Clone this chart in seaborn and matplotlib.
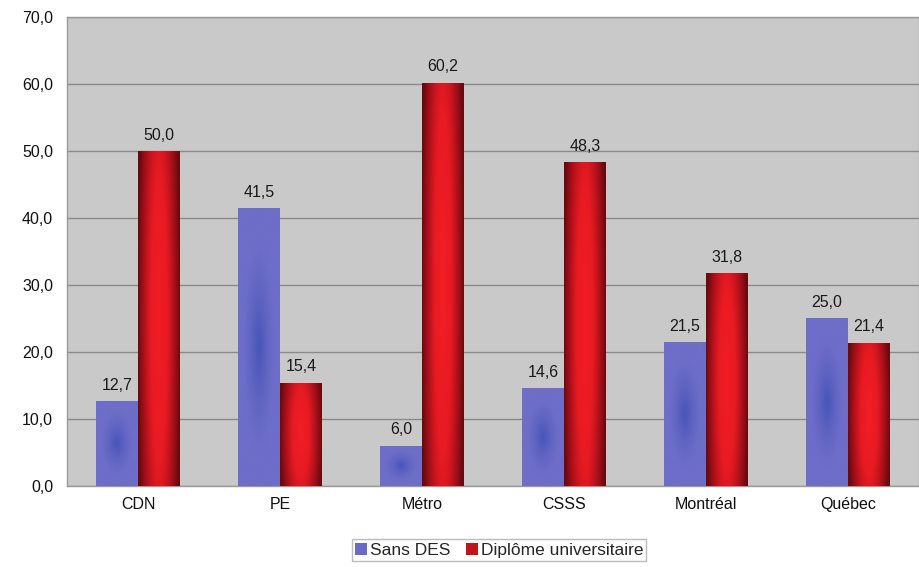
import numpy as np
import pandas as pd
import seaborn as sns
import matplotlib.pyplot as plt
from matplotlib.colors import LinearSegmentedColormap
from matplotlib.patches import Patch

# données
regions = ["CDN", "PE", "Métro", "CSSS", "Montréal", "Québec"]
sans_des = [12.7, 41.5, 6.0, 14.6, 21.5, 25.0]
diplome = [50.0, 15.4, 60.2, 48.3, 31.8, 21.4]
series = ["Sans DES", "Diplôme universitaire"]

df = pd.DataFrame({
    "Region": regions * 2,
    "Serie": [series[0]] * len(regions) + [series[1]] * len(regions),
    "Valeur": sans_des + diplome,
})

sns.set_style("white")
plt.rcParams["font.family"] = ["Liberation Sans", "DejaVu Sans"]

fig = plt.figure(figsize=(9.19, 5.67), dpi=100)
ax = fig.add_axes([0.073, 0.143, 0.927, 0.827])

couleurs = {"Sans DES": "#6a6ac4", "Diplôme universitaire": "#c0141c"}
sns.barplot(data=df, x="Region", y="Valeur", hue="Serie", palette=couleurs,
            width=0.59, gap=0, ax=ax, legend=False, zorder=3, linewidth=0)

# dégradés dans les barres (bord -> centre)
cmap_bleu = LinearSegmentedColormap.from_list("b", ["#6e6ec8", "#5f63c2", "#4656b8"])
cmap_rouge = LinearSegmentedColormap.from_list("r", ["#6a0a0e", "#a8101a", "#e81a22", "#f21e26"])
xx, yy = np.meshgrid(np.linspace(-1, 1, 80), np.linspace(-1, 1, 80))
for i, p in enumerate(ax.patches):
    x0, y0 = p.get_x(), p.get_y()
    w, h = p.get_width(), p.get_height()
    if h <= 0:
        continue
    if i < len(regions):
        img = np.clip(1 - np.sqrt((xx / 0.75) ** 2 + (yy / 0.75) ** 2), 0, 1)
        cm = cmap_bleu
    else:
        img = np.clip(1 - np.sqrt((xx / 1.0) ** 2 + (yy / 2.2) ** 2), 0, 1) ** 0.8
        cm = cmap_rouge
    im = ax.imshow(img, cmap=cm, vmin=0, vmax=1, extent=[x0, x0 + w, y0, y0 + h],
                   aspect="auto", zorder=4, interpolation="bicubic")
    im.set_clip_path(p)

ax.set_xlim(-0.5, len(regions) - 0.5)
ax.set_ylim(0, 70)
ax.set_yticks(np.arange(0, 71, 10))
ax.set_yticklabels([f"{v:.1f}".replace(".", ",") for v in np.arange(0, 71, 10)])
ax.set_facecolor("#c9c9c9")
ax.grid(axis="y", color="#8a8a8a", linewidth=1, zorder=1)
ax.set_axisbelow(True)
for s in ax.spines.values():
    s.set_color("#9a9a9a")
    s.set_linewidth(1)
ax.set_xlabel("")
ax.set_ylabel("")
ax.tick_params(axis="both", labelsize=11.5, colors="#111111", length=0, pad=8)
ax.tick_params(axis="y", pad=10)

# étiquettes de valeurs
for c in ax.containers:
    ax.bar_label(c, labels=[f"{v:.1f}".replace(".", ",") for v in c.datavalues],
                 padding=6, fontsize=11.5, color="#1a1a1a", zorder=5)

handles = [Patch(facecolor=couleurs[s], edgecolor="none") for s in series]
fig.legend(handles, series, loc="lower center", bbox_to_anchor=(0.543, -0.005), ncol=2,
           frameon=True, fancybox=False, edgecolor="#aaaaaa", fontsize=12.5,
           handlelength=0.7, handleheight=0.7, handletextpad=0.15, columnspacing=0.9,
           borderpad=0.2)

fig.savefig("out.png", dpi=100)
